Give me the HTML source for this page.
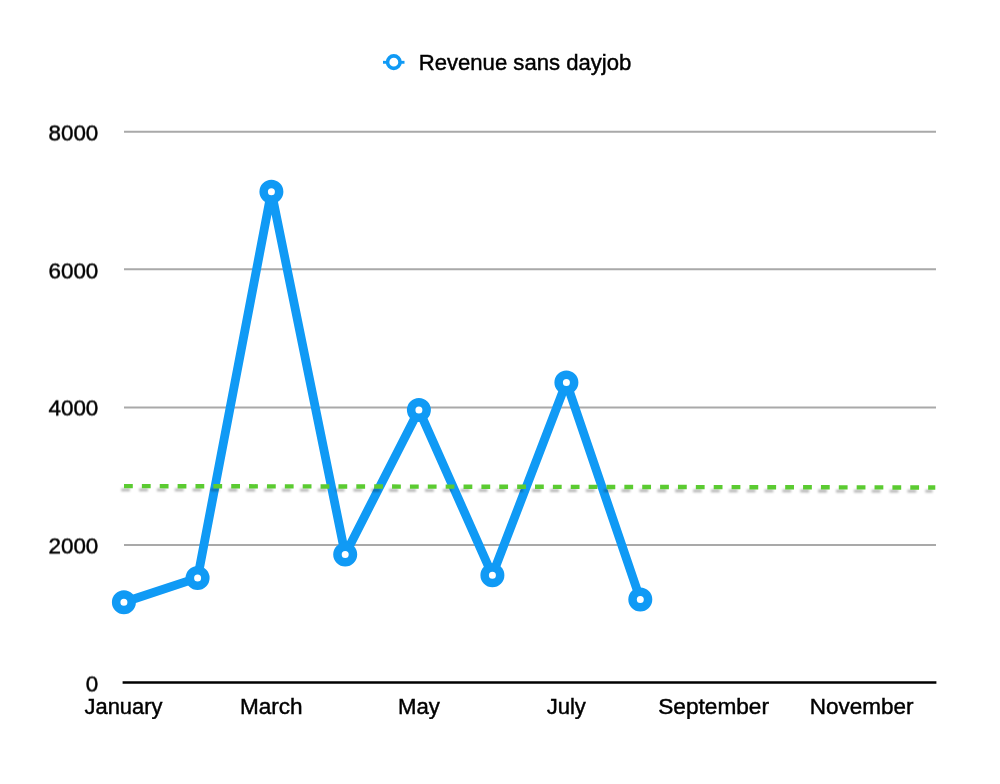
<!DOCTYPE html>
<html>
<head>
<meta charset="utf-8">
<title>Revenue sans dayjob</title>
<style>
  html, body { margin: 0; padding: 0; background: #ffffff; }
  body { width: 1000px; height: 784px; overflow: hidden; }
  svg { display: block; }
  text { font-family: "Liberation Sans", sans-serif; font-size: 22px; fill: #000000; stroke: #000000; stroke-width: 0.45px; }
  .txt { opacity: 0.999; }
  .yl text { font-size: 22.4px; }
</style>
</head>
<body>
<svg width="1000" height="784" viewBox="0 0 1000 784">
  <defs>
    <filter id="half" x="-10%" y="-2%" width="120%" height="104%" color-interpolation-filters="sRGB">
      <feOffset dx="0" dy="1" result="o"/>
      <feComposite in="SourceGraphic" in2="o" operator="arithmetic" k1="0" k2="0.5" k3="0.5" k4="0"/>
    </filter>
    <filter id="sh" filterUnits="userSpaceOnUse" x="100" y="470" width="860" height="40">
      <feGaussianBlur stdDeviation="0.85"/>
    </filter>
  </defs>
  <rect x="0" y="0" width="1000" height="784" fill="#ffffff"/>

  <!-- gridlines -->
  <g stroke="#a9a9a9" stroke-width="2" fill="none">
    <line x1="124" y1="131.7" x2="936" y2="131.7"/>
    <line x1="124" y1="269.2" x2="936" y2="269.2"/>
    <line x1="124" y1="407.4" x2="936" y2="407.4"/>
    <line x1="124" y1="545" x2="936" y2="545"/>
  </g>
  <!-- x axis -->
  <line x1="122.6" y1="682.5" x2="936.4" y2="682.5" stroke="#000000" stroke-width="2.6"/>

  <!-- y labels -->
  <g class="yl" text-anchor="end" filter="url(#half)">
    <text x="98.3" y="140">8000</text>
    <text x="98.3" y="278">6000</text>
    <text x="98.3" y="415">4000</text>
    <text x="98.3" y="553">2000</text>
    <text x="98.2" y="691">0</text>
  </g>

  <!-- x labels -->
  <g class="txt" text-anchor="middle">
    <text x="123.5" y="713.5" textLength="77.8" lengthAdjust="spacingAndGlyphs">January</text>
    <text x="271.3" y="713.5" textLength="62.7" lengthAdjust="spacingAndGlyphs">March</text>
    <text x="418.9" y="713.5" textLength="41.9" lengthAdjust="spacingAndGlyphs">May</text>
    <text x="566.3" y="713.5" textLength="39.2" lengthAdjust="spacingAndGlyphs">July</text>
    <text x="713.6" y="713.5" textLength="110.8" lengthAdjust="spacingAndGlyphs">September</text>
    <text x="861.6" y="713.5" textLength="103.8" lengthAdjust="spacingAndGlyphs">November</text>
  </g>

  <!-- series line -->
  <polyline fill="none" stroke="#109af5" stroke-width="8.8" stroke-linejoin="round" stroke-linecap="round"
    points="123.9,602.3 197.6,577.9 271.4,191.7 345.2,554.4 418.9,409.9 492.4,575.2 566.4,382.4 640.3,599.4"/>
  <!-- markers -->
  <g fill="#ffffff" stroke="#109af5" stroke-width="8.5">
    <circle cx="123.9" cy="602.3" r="7.75"/>
    <circle cx="197.6" cy="577.9" r="7.75"/>
    <circle cx="271.4" cy="191.7" r="7.75"/>
    <circle cx="345.2" cy="554.4" r="7.75"/>
    <circle cx="418.9" cy="409.9" r="7.75"/>
    <circle cx="492.4" cy="575.2" r="7.75"/>
    <circle cx="566.4" cy="382.4" r="7.75"/>
    <circle cx="640.3" cy="599.4" r="7.75"/>
  </g>

  <!-- average dashed line with shadow -->
  <line x1="121.2" y1="489.8" x2="932.5" y2="491.2" stroke="#000000" stroke-opacity="0.30" stroke-width="2.8" stroke-dasharray="8.8 9.07" filter="url(#sh)"/>
  <line x1="124" y1="486.1" x2="935.3" y2="487.5" stroke="#5bcb31" stroke-width="4.4" stroke-dasharray="8.8 9.07"/>

  <!-- legend -->
  <line x1="383" y1="62.3" x2="404.5" y2="62.3" stroke="#109af5" stroke-width="2.9"/>
  <circle cx="393.8" cy="62.15" r="6.25" fill="#ffffff" stroke="#109af5" stroke-width="3.6"/>
  <text class="txt" x="418.7" y="70.1" textLength="212.7" lengthAdjust="spacingAndGlyphs">Revenue sans dayjob</text>
</svg>
</body>
</html>
